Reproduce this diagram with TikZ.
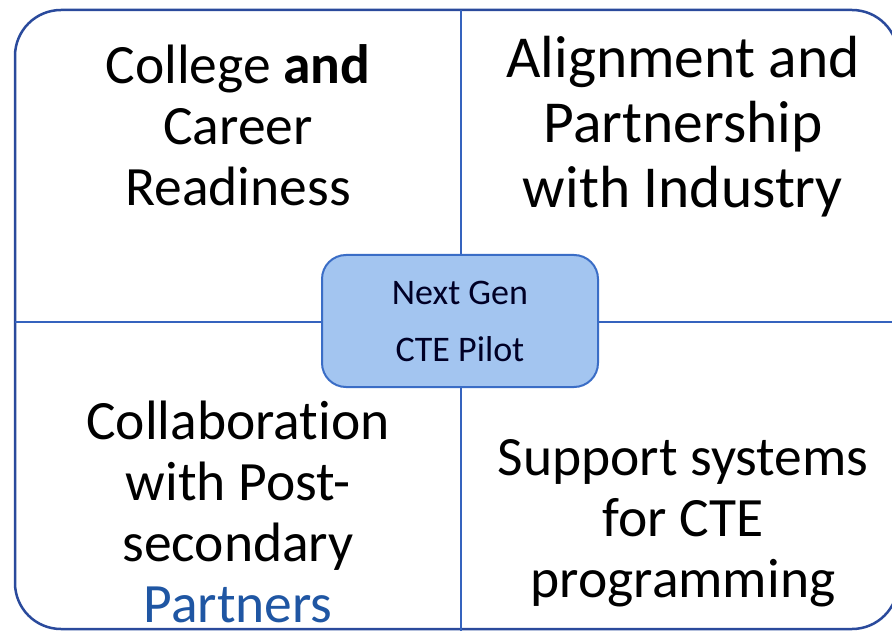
\documentclass[tikz,border=0pt]{standalone}
\usepackage{fontspec}
\setmainfont{Carlito}[Ligatures=CommonOff]
\definecolor{outerline}{HTML}{2A4A9C}
\definecolor{divline}{HTML}{3563BE}
\definecolor{boxfill}{HTML}{A3C5F0}
\definecolor{boxline}{HTML}{3A6DC6}
\definecolor{partblue}{HTML}{1F56A3}
\tikzset{
  quad/.style={align=center, inner sep=0pt, font=\fontsize{55.5}{61}\selectfont, text=black},
  bigquad/.style={quad, font=\fontsize{59.5}{65}\selectfont},
  pilotbox/.style={draw=boxline, line width=2pt, fill=boxfill, rounded corners=24pt,
    minimum width=276pt, minimum height=132pt, align=center, inner sep=0pt,
    font=\fontsize{36}{57}\selectfont, text=black!85!blue},
  divider/.style={draw=divline, line width=2.5pt}
}
\begin{document}
\begin{tikzpicture}[x=1pt,y=-1pt]
\useasboundingbox (0,0) rectangle (892,631);
\fill[white] (0,0) rectangle (892,631);
\draw[outerline, line width=2.5pt, rounded corners=46pt] (15,10) rectangle (898,629);
\coordinate (top) at (461,10);
\coordinate (bot) at (461,631);
\coordinate (lft) at (15,322);
\coordinate (rgt) at (892,322);
\draw[divider] (top) -- (bot);
\draw[divider] (lft) -- (rgt);
\node[pilotbox] (pilot) at (460,321) {Next Gen\\CTE Pilot};
\node[quad] (tl) at (238,125) {College \textbf{and}\\Career\\Readiness};
\node[bigquad] (tr) at (683,127) {Alignment and\\Partnership\\with Industry};
\node[quad] (bl) at (238,512) {Collaboration\\with Post-\\secondary\\\textcolor{partblue}{Partners}};
\node[quad] (br) at (683,523) {Support systems\\for CTE\\programming};
\end{tikzpicture}
\end{document}
